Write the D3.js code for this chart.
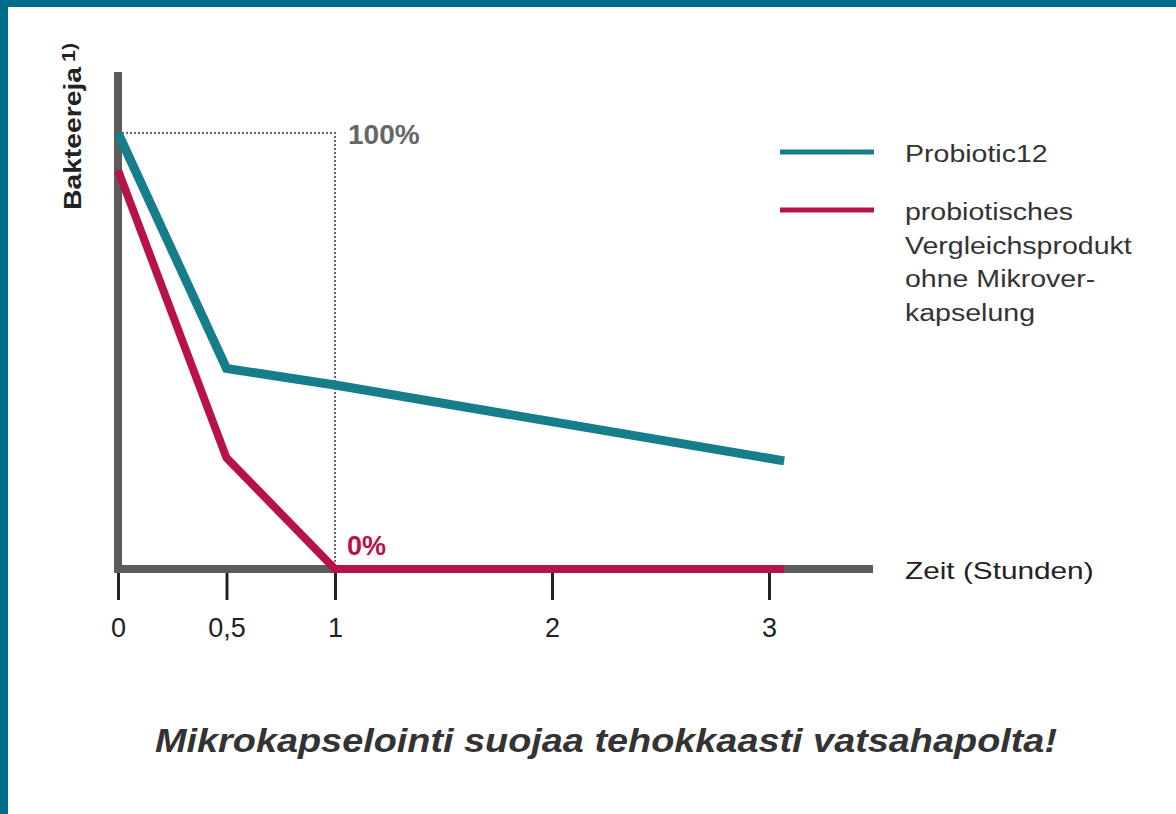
<!DOCTYPE html>
<html>
<head>
<meta charset="utf-8">
<script src="https://cdn.jsdelivr.net/npm/d3@7"></script>
<style>
  body { margin: 0; background: #fff; }
  svg { display: block; }
  svg text { font-family: "Liberation Sans", Arimo, Arial, Helvetica, sans-serif; }
</style>
</head>
<body>
<svg id="chart" width="1176" height="814"></svg>
<script>
// data (bacteria in % of start)
const hours = [0, 0.5, 1, 3.07];
const probiotic12 = [100, 46, 42.2, 24.8];
const vergleich = [91.5, 25.5, 0, 0];
const tickValues = [0, 0.5, 1, 2, 3];
const tickLabels = ["0", "0,5", "1", "2", "3"];
const seriesNames = ["Probiotic12", ["probiotisches", "Vergleichsprodukt", "ohne Mikrover-", "kapselung"]];

const teal = "#167d8b";
const red = "#b8124a";
const axisGray = "#5c5c5c";
const FONT = "Liberation Sans, Arimo, Arial, Helvetica, sans-serif";

const svg = d3.select("#chart");

// the source image is a bit stretched sideways, so text is widened to match
function fit(sel, k = 1.24) {
    const w = sel.node().getComputedTextLength();
    sel.attr("textLength", w * k).attr("lengthAdjust", "spacingAndGlyphs");
    return sel;
}

// frame
svg.append("rect").attr("x", 0).attr("y", 0).attr("width", 1176).attr("height", 7).attr("fill", "#006a8d");
svg.append("rect").attr("x", 0).attr("y", 0).attr("width", 8).attr("height", 814).attr("fill", "#006a8d");

const x = d3.scaleLinear().domain([0, 3]).range([118, 769]);
const y = d3.scaleLinear().domain([0, 100]).range([569, 133]);

// dotted guide for 100% and 1 h
svg.append("path")
    .attr("d", `M${x(0) + 4},${y(100)}H${x(1)}V${y(0) - 4}`)
    .style("fill", "none")
    .style("stroke", "#666")
    .style("stroke-width", 2)
    .style("stroke-dasharray", "2,2");

// axes drawn as thick bars
svg.append("line")
    .attr("x1", x(0)).attr("x2", x(0))
    .attr("y1", 72).attr("y2", y(0) + 4)
    .style("stroke", axisGray).style("stroke-width", 8);
svg.append("line")
    .attr("x1", x(0) - 4).attr("x2", 873)
    .attr("y1", y(0)).attr("y2", y(0))
    .style("stroke", axisGray).style("stroke-width", 8);

// x ticks via d3 axis
const xAxis = d3.axisBottom(x)
    .tickValues(tickValues)
    .tickFormat((d, i) => tickLabels[i])
    .tickSize(27)
    .tickPadding(18);
const gx = svg.append("g")
    .attr("transform", `translate(0,${y(0) + 4})`)
    .call(xAxis)
    .attr("font-family", FONT);
gx.select(".domain").remove();
gx.selectAll(".tick line").style("stroke", "#222").style("stroke-width", 3);
gx.selectAll(".tick text")
    .attr("font-family", FONT)
    .style("font-size", "27px")
    .style("fill", "#222");

const line = d3.line()
    .x((d, i) => x(hours[i]))
    .y(d => y(d));

svg.append("path")
    .datum(vergleich)
    .attr("d", line)
    .style("fill", "none")
    .style("stroke", red)
    .style("stroke-width", 8)
    .style("stroke-linejoin", "miter");

svg.append("path")
    .datum(probiotic12)
    .attr("d", line)
    .style("fill", "none")
    .style("stroke", teal)
    .style("stroke-width", 9)
    .style("stroke-linejoin", "miter");

// value labels
svg.append("text")
    .attr("x", x(1) + 13).attr("y", y(100) + 11)
    .text("100%")
    .style("font-size", "28px").style("font-weight", "bold").style("fill", "#666");
svg.append("text")
    .attr("x", x(1) + 12).attr("y", y(0) - 14)
    .text("0%")
    .style("font-size", "27px").style("font-weight", "bold").style("fill", red);

// axis titles
svg.append("text")
    .attr("transform", "translate(81,210) rotate(-90)")
    .attr("textLength", 143)
    .attr("lengthAdjust", "spacingAndGlyphs")
    .style("font-size", "24px").style("font-weight", "bold").style("fill", "#222")
    .text("Bakteereja");
svg.append("text")
    .attr("transform", "translate(75,62) rotate(-90)")
    .attr("textLength", 19)
    .attr("lengthAdjust", "spacingAndGlyphs")
    .style("font-size", "18px").style("font-weight", "bold").style("fill", "#222")
    .text("1)");

fit(svg.append("text")
    .attr("x", 905).attr("y", 579)
    .text("Zeit (Stunden)")
    .style("font-size", "24px").style("fill", "#222"));

// legend
const legend = svg.append("g");
legend.append("line").attr("x1", 780).attr("x2", 874).attr("y1", 152).attr("y2", 152)
    .style("stroke", teal).style("stroke-width", 5);
legend.append("line").attr("x1", 780).attr("x2", 874).attr("y1", 210).attr("y2", 210)
    .style("stroke", red).style("stroke-width", 5);
fit(legend.append("text").attr("x", 905).attr("y", 162).text(seriesNames[0])
    .style("font-size", "23px").style("fill", "#333"));
legend.selectAll("text.multi")
    .data(seriesNames[1])
    .enter().append("text")
    .attr("class", "multi")
    .attr("x", 905)
    .attr("y", (d, i) => 220 + i * 33.7)
    .style("font-size", "23px").style("fill", "#333")
    .text(d => d)
    .each(function() { fit(d3.select(this)); });

// caption
svg.append("text")
    .attr("x", 155).attr("y", 752)
    .attr("textLength", 902)
    .attr("lengthAdjust", "spacingAndGlyphs")
    .text("Mikrokapselointi suojaa tehokkaasti vatsahapolta!")
    .style("font-size", "34px")
    .style("font-weight", "bold")
    .style("font-style", "italic")
    .style("fill", "#333");
</script>
</body>
</html>
